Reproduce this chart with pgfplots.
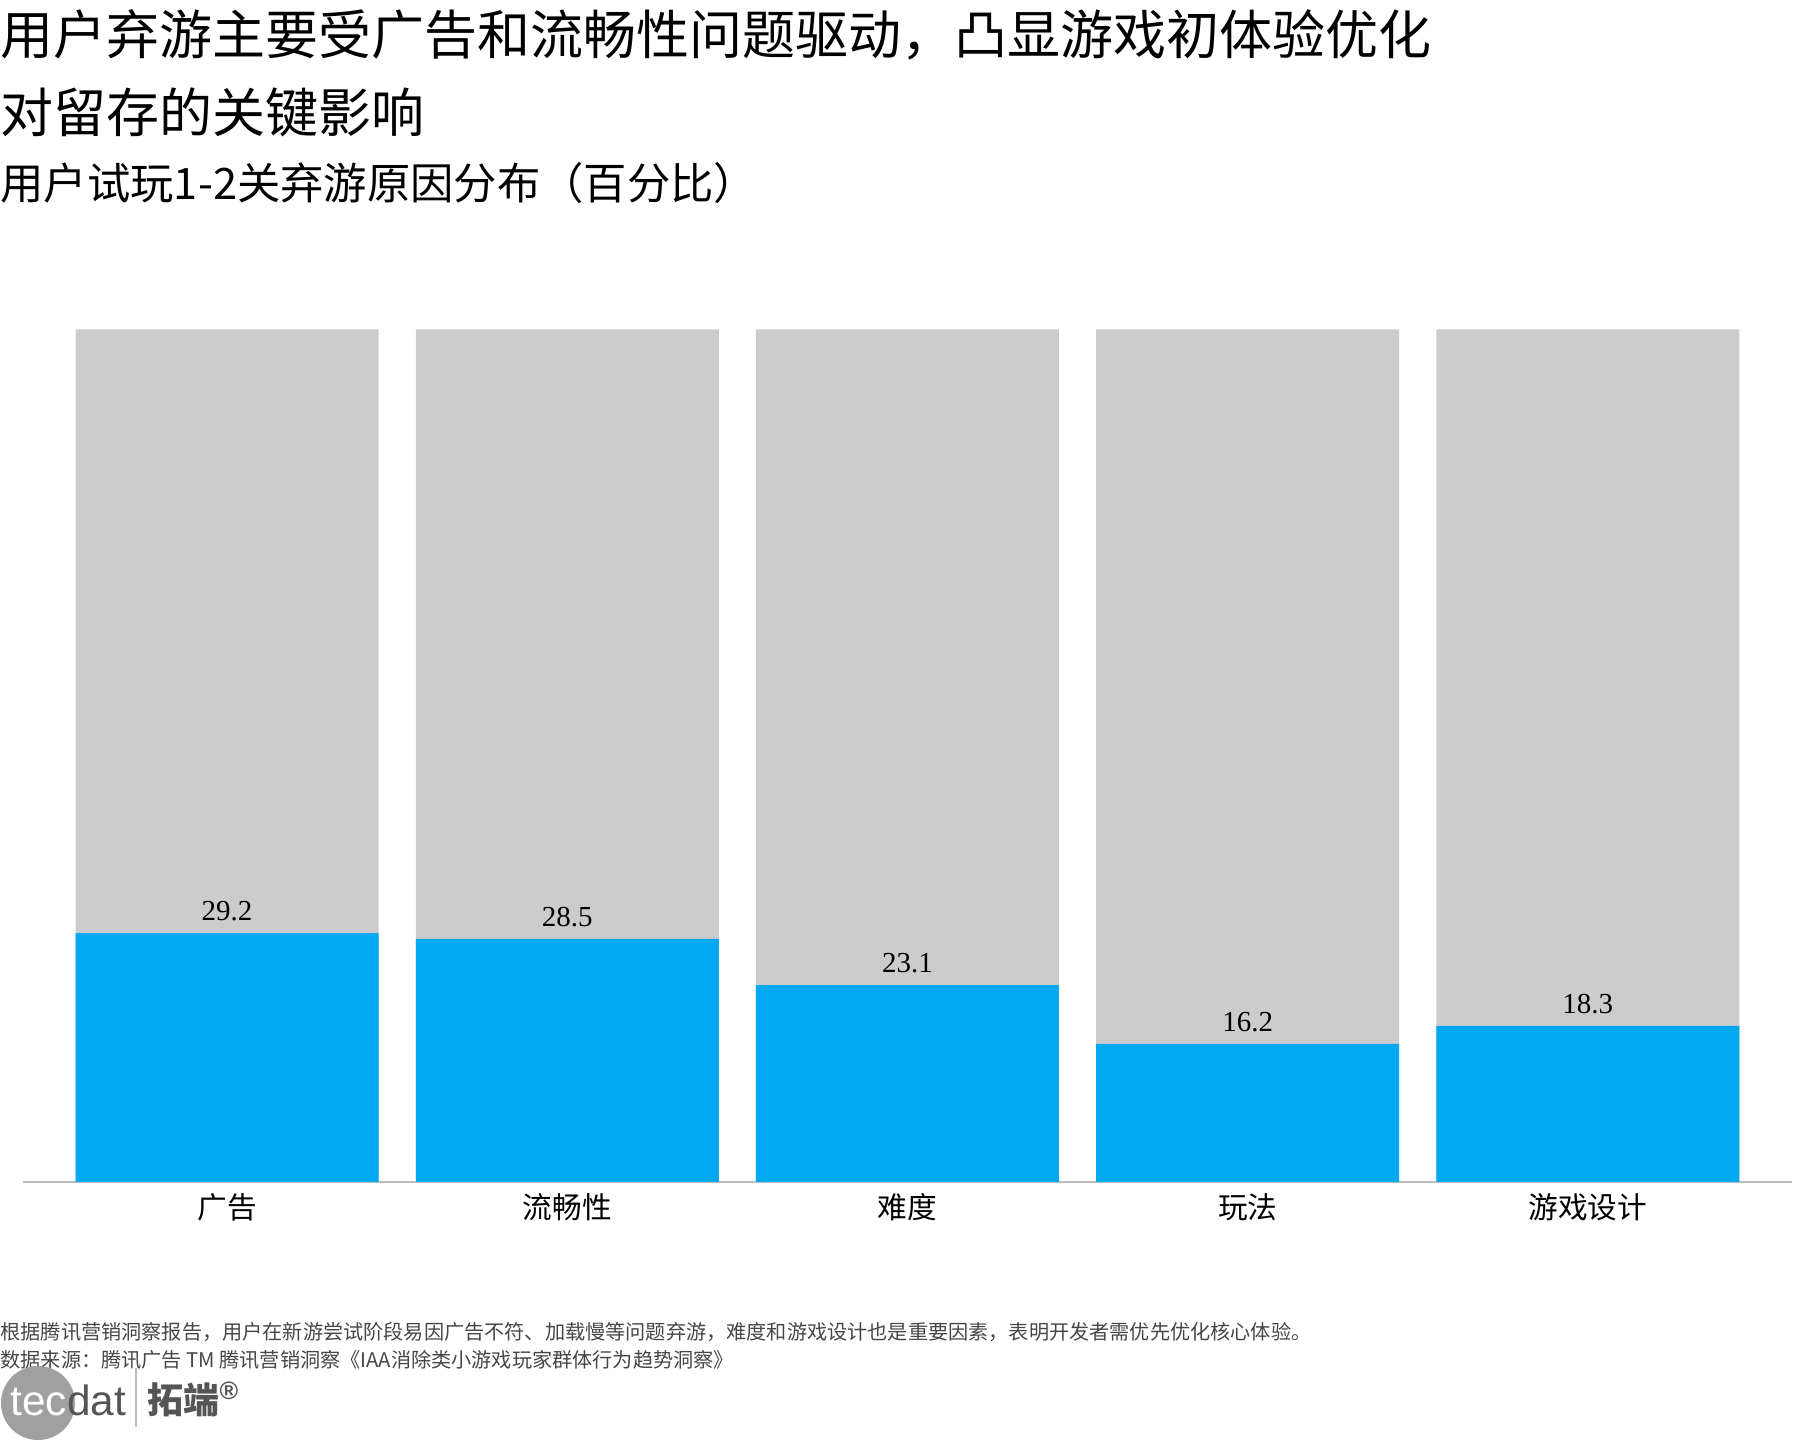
\documentclass[border=0pt]{standalone}
\usepackage{fontspec}
\setmainfont{Noto Sans CJK SC}
\newfontfamily\serif{Liberation Serif}
\newfontfamily\logofont{Liberation Sans}
\usepackage{pgfplots}
\pgfplotsset{compat=1.18}

\definecolor{barblue}{RGB}{0,168,240}
\definecolor{bggray}{RGB}{204,204,204}
\definecolor{axisgray}{RGB}{190,190,190}
\definecolor{foot}{RGB}{70,70,70}
\definecolor{logogray}{RGB}{160,160,160}
\definecolor{logodark}{RGB}{85,85,85}

\begin{document}
\begin{tikzpicture}
% page = 1800 x 1440 px, 1 px = 0.3pt, origin top left
\begin{scope}[x=0.3pt, y=-0.3pt]
  \path[use as bounding box] (0,0) rectangle (1800,1440);
  \node[anchor=west, inner sep=0] at (0,35)
    {\fontsize{15.9}{19}\selectfont 用户弃游主要受广告和流畅性问题驱动，凸显游戏初体验优化};
  \node[anchor=west, inner sep=0] at (0,112)
    {\fontsize{15.9}{19}\selectfont 对留存的关键影响};
  \node[anchor=west, inner sep=0] at (0,183)
    {\fontsize{13}{15}\selectfont 用户试玩1-2关弃游原因分布（百分比）};
  \node[anchor=west, inner sep=0, text=foot] at (0,1332)
    {\fontsize{6.05}{8}\selectfont 根据腾讯营销洞察报告，用户在新游尝试阶段易因广告不符、加载慢等问题弃游，难度和游戏设计也是重要因素，表明开发者需优先优化核心体验。};
  \node[anchor=west, inner sep=0, text=foot] at (0,1360)
    {\fontsize{6.05}{8}\selectfont 数据来源：腾讯广告 TM 腾讯营销洞察《IAA消除类小游戏玩家群体行为趋势洞察》};
  % logo
  \fill[logogray] (38,1403) circle[radius=37];
  \node[anchor=base west, inner sep=0] at (10,1415)
    {\logofont\fontsize{12.7}{14}\selectfont\textcolor{white}{tec}\textcolor{logodark}{dat}};
  \draw[axisgray, line width=0.4pt] (136,1368) -- (136,1427);
  \node[anchor=base west, inner sep=0, text=logodark] at (147,1413)
    {\fontsize{10.8}{12}\selectfont\bfseries 拓端\textsuperscript{\logofont ®}};
\end{scope}

\begin{axis}[
  at={(6.9pt,-354.6pt)}, anchor=south west,
  width=530.7pt, height=255.8pt, scale only axis,
  xmin=-0.6, xmax=4.6, ymin=0, ymax=100,
  axis y line=none,
  axis x line=bottom,
  x axis line style={-, draw=axisgray, line width=0.7pt},
  xtick={0,1,2,3,4},
  xticklabels={广告,流畅性,难度,玩法,游戏设计},
  major tick length=0pt,
  xticklabel style={font=\fontsize{8.9}{10}\selectfont, text=black},
  ytick=\empty,
  ybar, bar width=90.9pt, bar shift=0pt,
  clip=false,
]
\addplot[fill=bggray, draw=none] coordinates {
  (0,100) (1,100) (2,100) (3,100) (4,100)
};
\addplot[fill=barblue, draw=none,
  nodes near coords={\pgfmathprintnumber[fixed,fixed zerofill,precision=1,assume math mode=true]{\pgfplotspointmeta}},
  nodes near coords style={font=\serif\fontsize{8.7}{10}\selectfont, text=black}
] coordinates {
  (0,29.2) (1,28.5) (2,23.1) (3,16.2) (4,18.3)
};
\end{axis}
\end{tikzpicture}
\end{document}
